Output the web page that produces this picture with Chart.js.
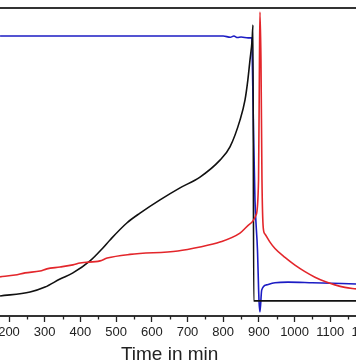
<!DOCTYPE html>
<html>
<head>
<meta charset="utf-8">
<script src="https://cdn.jsdelivr.net/npm/chart.js@4/dist/chart.umd.min.js"></script>
<style>
  html, body { margin:0; padding:0; width:356px; height:364px; overflow:hidden; background:#fff; }
  #c { position:absolute; left:-50px; top:0; }
</style>
</head>
<body>
<canvas id="c" width="440" height="364"></canvas>
<script>
// ---- data (time in min, relative signal 0-100) ----
const blackTime  = [175, 259, 301, 343, 379, 427, 463, 483, 530, 567, 623, 679, 735, 791, 819, 847, 861, 869, 875, 881, 883.4, 885.5, 1000, 1100, 1172];
const blackValue = [6.5, 7.8, 9.4, 12.0, 14.0, 17.9, 22.1, 24.7, 30.2, 33.4, 37.7, 41.6, 45.1, 50.6, 54.9, 63.6, 70.1, 76.6, 83.1, 89.6, 94.5, 4.9, 4.9, 4.9, 4.9];

const blueTime  = [175, 300, 500, 700, 800, 820, 830, 840, 850, 870, 880, 882, 885, 889, 896, 900.2, 903, 907.8, 921.8, 945, 981.5, 1050, 1172];
const blueValue = [90.9, 90.9, 90.9, 90.9, 90.9, 90.5, 90.9, 90.4, 90.6, 90.3, 90.3, 80.0, 60.0, 37.7, 21.4, 5.2, 1.3, 8.4, 10.1, 10.8, 11.0, 10.8, 10.4];

const redTime  = [175, 217, 245, 287, 306, 343, 379, 399, 455, 475, 539, 673, 735, 791, 847, 875, 892, 899, 901.6, 903, 905.8, 908.6, 912.2, 917, 931, 945, 973, 1001, 1029, 1057, 1085, 1113, 1141, 1172];
const redValue = [12.7, 13.3, 14.0, 14.6, 15.3, 15.9, 16.6, 17.2, 17.9, 18.8, 20.0, 21.1, 22.4, 24.0, 26.9, 29.9, 32.8, 44.2, 83.1, 98.7, 83.1, 44.2, 28.6, 26.6, 24.0, 21.9, 19.0, 16.5, 14.4, 12.6, 11.2, 10.1, 9.3, 8.8];

const xMin = 100, xMax = 1200, xStep = 50;
const xTitle = 'Time in min';

const pts = (t, v) => t.map((x, i) => ({ x, y: v[i] }));

const framePlugin = {
  id: 'frame',
  afterDatasetsDraw(chart) {
    const { ctx, chartArea: a, scales: { x } } = chart;
    ctx.save();
    ctx.strokeStyle = '#333';
    ctx.lineWidth = 2;
    ctx.strokeRect(a.left, a.top, a.right - a.left, a.bottom - a.top);
    // minor ticks
    ctx.strokeStyle = '#222';
    ctx.lineWidth = 1.3;
    for (let v = xMin; v <= xMax; v += xStep) {
      if (v % 100 === 0) continue;
      const px = Math.round(x.getPixelForValue(v)) + 0.5;
      ctx.beginPath();
      ctx.moveTo(px, a.bottom);
      ctx.lineTo(px, a.bottom + 3.5);
      ctx.stroke();
    }
    ctx.restore();
  }
};

new Chart(document.getElementById('c'), {
  type: 'line',
  data: {
    datasets: [
      { data: pts(redTime, redValue), borderColor: '#e3262b', borderWidth: 1.6 },
      { data: pts(blackTime, blackValue), borderColor: '#111111', borderWidth: 1.6 },
      { data: pts(blueTime, blueValue), borderColor: '#1c1cc4', borderWidth: 1.6 }
    ]
  },
  options: {
    responsive: false,
    animation: false,
    devicePixelRatio: 1,
    layout: { padding: { left: 23.3, right: 24, top: 8, bottom: 0 } },
    elements: { point: { radius: 0 }, line: { tension: 0, cubicInterpolationMode: 'monotone' } },
    plugins: { legend: { display: false }, tooltip: { enabled: false } },
    scales: {
      x: {
        type: 'linear',
        min: xMin, max: xMax,
        afterFit(s) { s.height = 48; },
        border: { display: false },
        grid: {
          drawOnChartArea: false, drawTicks: true, tickLength: 6,
          tickWidth: 1.3,
          tickColor: (c) => (c.tick && c.tick.value % 100 === 0) ? '#222' : 'rgba(0,0,0,0)'
        },
        ticks: {
          stepSize: xStep, includeBounds: false, autoSkip: false, maxRotation: 0,
          padding: 3, color: '#222',
          font: { family: 'Liberation Sans, Arial, sans-serif', size: 13 },
          callback: (v) => (v % 100 === 0 ? String(v) : '')
        },
        title: {
          display: true, text: xTitle, color: '#222',
          font: { family: 'Liberation Sans, Arial, sans-serif', size: 19, lineHeight: 1 },
          padding: { top: 0, bottom: 0 }
        }
      },
      y: { display: false, min: 0, max: 100 }
    }
  },
  plugins: [framePlugin]
});
</script>
</body>
</html>
